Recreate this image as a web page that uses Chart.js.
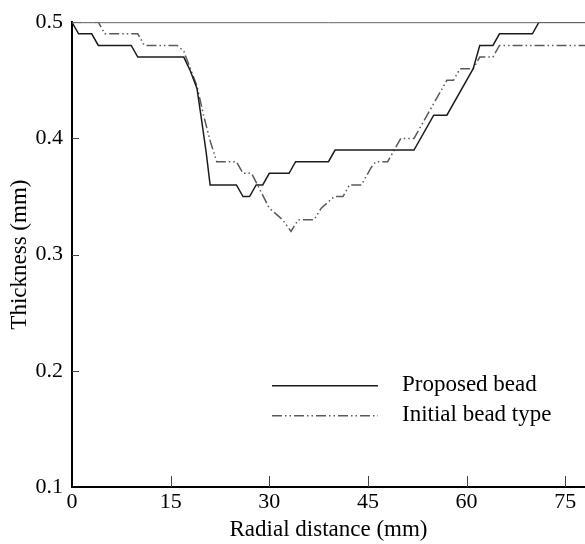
<!DOCTYPE html>
<html>
<head>
<meta charset="utf-8">
<script src="https://cdn.jsdelivr.net/npm/chart.js@4.4.0/dist/chart.umd.min.js"></script>
<style>
  html, body { margin: 0; padding: 0; background: #fff; }
  canvas { display: block; }
</style>
</head>
<body>
<canvas id="chart" width="585" height="544"></canvas>
<script>
// thickness profile (x = radial distance mm, y = thickness mm)
const proposedX = [0, 1, 3, 4, 9, 10, 17, 18, 19, 19.7, 20.4, 21, 25, 26, 27, 28, 29, 30, 33, 34, 39, 40, 52, 55, 57, 61, 62, 64, 65, 70, 71, 78];
const proposedY = [0.50, 0.49, 0.49, 0.48, 0.48, 0.47, 0.47, 0.458, 0.443, 0.416, 0.388, 0.36, 0.36, 0.35, 0.35, 0.36, 0.36, 0.37, 0.37, 0.38, 0.38, 0.39, 0.39, 0.42, 0.42, 0.46, 0.48, 0.48, 0.49, 0.49, 0.50, 0.50];

const initialX = [0, 4, 5, 10, 11, 16, 17, 18, 19, 20, 21, 22, 25, 26, 27.3, 30, 31, 32, 33.3, 34.4, 36.8, 37.9, 39.9, 41.2, 42.2, 44, 45.5, 46.2, 48, 49, 50, 52, 53, 54, 55, 57, 58, 59, 61, 62, 64, 65, 78];
const initialY = [0.50, 0.50, 0.49, 0.49, 0.48, 0.48, 0.475, 0.46, 0.445, 0.42, 0.398, 0.38, 0.38, 0.37, 0.37, 0.34, 0.335, 0.33, 0.32, 0.33, 0.33, 0.34, 0.35, 0.35, 0.36, 0.36, 0.375, 0.38, 0.38, 0.39, 0.40, 0.40, 0.41, 0.42, 0.43, 0.45, 0.45, 0.46, 0.46, 0.47, 0.47, 0.48, 0.48];

const seriesNames = ['Proposed bead', 'Initial bead type'];
const xTicks = [0, 15, 30, 45, 60, 75];
const yTicks = [0.1, 0.2, 0.3, 0.4, 0.5];

const serif = '"Liberation Serif", "Times New Roman", serif';

const toPoints = (xs, ys) => xs.map((x, i) => ({ x: x, y: ys[i] }));

// ticks point into the plot, plus the thin frame line on top
const frameTicks = {
  id: 'frameTicks',
  afterDatasetsDraw(c) {
    const { ctx, chartArea: a, scales } = c;
    ctx.save();
    ctx.strokeStyle = '#666';
    ctx.lineWidth = 1;
    ctx.beginPath();
    ctx.moveTo(a.left, a.top + 0.5);
    ctx.lineTo(a.right, a.top + 0.5);
    ctx.stroke();

    ctx.strokeStyle = '#444';
    ctx.beginPath();
    xTicks.forEach(v => {
      if (v === 0) return;
      const px = Math.round(scales.x.getPixelForValue(v)) + 0.5;
      ctx.moveTo(px, a.bottom);
      ctx.lineTo(px, a.bottom - 11);
    });
    yTicks.forEach(v => {
      if (v === 0.1 || v === 0.5) return;
      const py = Math.round(scales.y.getPixelForValue(v)) + 0.5;
      ctx.moveTo(a.left, py);
      ctx.lineTo(a.left + 7, py);
    });
    ctx.stroke();
    ctx.restore();
  }
};

// legend drawn inside the plot, lower right
const innerLegend = {
  id: 'innerLegend',
  afterDraw(c) {
    const { ctx, chartArea: a } = c;
    const x0 = a.left + 200, x1 = a.left + 306, tx = a.left + 330;
    const rows = [a.top + 363, a.top + 393];
    ctx.save();
    c.data.datasets.forEach((ds, i) => {
      ctx.strokeStyle = ds.borderColor;
      ctx.lineWidth = ds.borderWidth;
      ctx.setLineDash(ds.borderDash || []);
      ctx.beginPath();
      ctx.moveTo(x0, rows[i] + 0.5);
      ctx.lineTo(x1, rows[i] + 0.5);
      ctx.stroke();
      ctx.setLineDash([]);
      ctx.fillStyle = '#000';
      ctx.font = '23px ' + serif;
      ctx.textBaseline = 'middle';
      ctx.fillText(ds.label, tx, rows[i]);
    });
    ctx.restore();
  }
};

new Chart(document.getElementById('chart'), {
  type: 'line',
  data: {
    datasets: [
      {
        label: seriesNames[0],
        data: toPoints(proposedX, proposedY),
        borderColor: '#1c1c1c',
        borderWidth: 1.5,
        pointRadius: 0,
        tension: 0
      },
      {
        label: seriesNames[1],
        data: toPoints(initialX, initialY),
        borderColor: '#5a5a5a',
        borderWidth: 1.5,
        borderDash: [10, 3, 1.5, 3, 1.5, 3],
        pointRadius: 0,
        tension: 0
      }
    ]
  },
  options: {
    responsive: false,
    animation: false,
    devicePixelRatio: 1,
    layout: { padding: { top: 18, right: 0, left: 0, bottom: 0 } },
    plugins: {
      legend: { display: false },
      tooltip: { enabled: false }
    },
    scales: {
      x: {
        type: 'linear',
        min: 0,
        max: 78,
        afterFit: s => { s.height = 57; },
        afterBuildTicks: s => { s.ticks = xTicks.map(v => ({ value: v })); },
        grid: { display: false, drawTicks: false },
        border: { display: true, color: '#000', width: 2 },
        ticks: {
          padding: 2,
          color: '#000',
          font: { family: serif, size: 22 },
          maxRotation: 0
        },
        title: {
          display: true,
          text: 'Radial distance (mm)',
          color: '#000',
          font: { family: serif, size: 23 },
          padding: { top: 0, bottom: 0 }
        }
      },
      y: {
        min: 0.1,
        max: 0.5,
        afterFit: s => { s.width = 72; },
        afterBuildTicks: s => { s.ticks = yTicks.map(v => ({ value: v })); },
        grid: { display: false, drawTicks: false },
        border: { display: true, color: '#000', width: 2 },
        ticks: {
          padding: 9,
          color: '#000',
          font: { family: serif, size: 22 },
          callback: v => v.toFixed(1)
        },
        title: {
          display: true,
          text: 'Thickness (mm)',
          color: '#000',
          font: { family: serif, size: 23 },
          padding: { top: 6, bottom: 0 }
        }
      }
    }
  },
  plugins: [frameTicks, innerLegend]
});
</script>
</body>
</html>
